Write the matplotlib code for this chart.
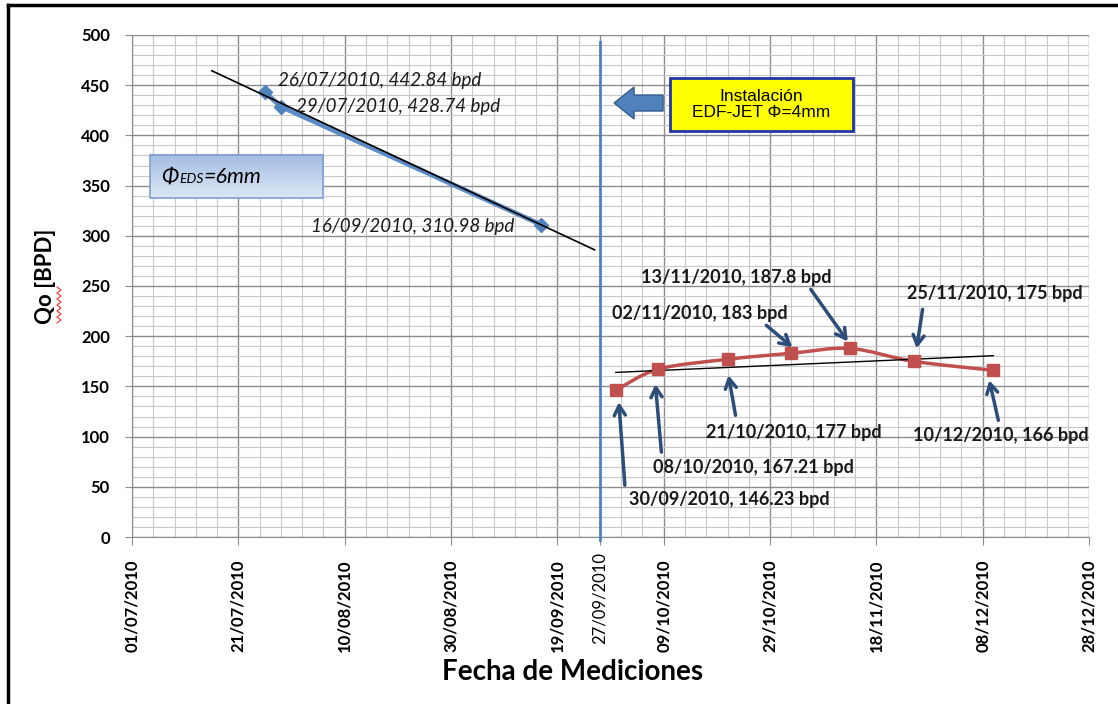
import datetime as dt

import numpy as np
import matplotlib
matplotlib.use("Agg")
import matplotlib.pyplot as plt
import matplotlib.dates as mdates
from matplotlib.colors import LinearSegmentedColormap
from matplotlib.lines import Line2D
from matplotlib.path import Path
from matplotlib.patches import PathPatch, Rectangle, FancyArrow
from matplotlib.ticker import FixedLocator

plt.rcParams["font.family"] = ["Lato", "DejaVu Sans"]

# Producción con EDS de 6 mm
eds_dates = ["26/07/2010", "29/07/2010", "16/09/2010"]
eds_qo = [442.84, 428.74, 310.98]

# Producción después de instalar el EDF-JET de 4 mm
jet_dates = ["30/09/2010", "08/10/2010", "21/10/2010", "02/11/2010",
             "13/11/2010", "25/11/2010", "10/12/2010"]
jet_qo = [146.23, 167.21, 177, 183, 187.8, 175, 166]

install_date = "27/09/2010"
x_start = "01/07/2010"
x_end = "28/12/2010"
y_max = 500
trend_extend_days = 10

# offsets de etiquetas (px respecto al punto)
eds_label_offsets = [(13, 12, "left"), (15, 0, "left"), (-27, -2, "right")]
# texto, cola de flecha, punta de flecha
jet_label_offsets = [
    ((13, -109), (9, -95), (3, -12)),
    ((-5, -98), (3, -83), (-3, -15)),
    ((-22, -73), (8, -56), (1, -16)),
    ((-179, 40), (-25, 28), (1, 6)),
    ((-209, 71), (-39, 59), (-2, 7)),
    ((-7, 68), (9, 52), (3, 13)),
    ((-80, -65), (5, -50), (-4, -10)),
]


def to_num(s):
    return mdates.date2num(dt.datetime.strptime(s, "%d/%m/%Y"))


def smooth_path(xs, ys):
    # curva suavizada tipo Excel (Bezier cúbica)
    pts = np.column_stack([xs, ys])
    p = np.vstack([pts[0], pts, pts[-1]])
    verts = [tuple(pts[0])]
    codes = [Path.MOVETO]
    for i in range(1, len(p) - 2):
        c1 = p[i] + (p[i + 1] - p[i - 1]) / 6.0
        c2 = p[i + 1] - (p[i + 2] - p[i]) / 6.0
        verts += [tuple(c1), tuple(c2), tuple(p[i + 1])]
        codes += [Path.CURVE4] * 3
    return Path(verts, codes)


eds_x = np.array([to_num(d) for d in eds_dates])
jet_x = np.array([to_num(d) for d in jet_dates])
x0, x1 = to_num(x_start), to_num(x_end)
x_inst = to_num(install_date)

fig = plt.figure(figsize=(11.18, 7.04), dpi=100)
ax = fig.add_axes([0.1181, 0.2372, 0.8560, 0.7131])
ax.set_xlim(x0, x1)
ax.set_ylim(0, y_max)

# rejilla
major_x = list(np.arange(x0, x1 + 1, 20))
ax.xaxis.set_minor_locator(FixedLocator(np.arange(x0, x1 + 1, 4)))
ax.yaxis.set_major_locator(FixedLocator(np.arange(0, y_max + 1, 50)))
ax.yaxis.set_minor_locator(FixedLocator(np.arange(0, y_max + 1, 10)))
ticks = sorted(major_x + [x_inst])
labels = [mdates.num2date(t).strftime("%d/%m/%Y") for t in ticks]
ax.set_xticks(ticks, labels=labels)
ax.grid(True, which="major", color="#8c8c8c", lw=1.0, zorder=0)
ax.grid(True, which="minor", color="#c8c8c8", lw=0.8, zorder=0)
ax.set_axisbelow(True)
for s in ["top", "right"]:
    ax.spines[s].set_visible(False)
for s in ["left", "bottom"]:
    ax.spines[s].set_color("#8c8c8c")

ax.tick_params(axis="y", which="major", length=5, color="#8c8c8c", pad=11,
               labelsize=12)
ax.tick_params(axis="x", which="major", length=6, color="#8c8c8c", pad=10,
               labelsize=12, labelrotation=90)
ax.tick_params(which="minor", length=0)
for t in ax.get_yticklabels():
    t.set_fontweight("bold")
for t in ax.get_xticklabels():
    t.set_fontweight("bold")
    t.set_va("top")
    if t.get_text() == install_date:
        t.set_fontweight("normal")
        t.set_y(0.014)

# línea de instalación
ax.plot([x_inst, x_inst], [-3, 493], color="#4f81bd", lw=2, clip_on=False,
        zorder=3)

# serie EDS y su tendencia
ax.plot(eds_x, eds_qo, color="#5b8cc8", lw=3.5, marker="D", ms=7,
        markerfacecolor="#4f81bd", markeredgecolor="#4f81bd", zorder=4)
k, b = np.polyfit(eds_x, eds_qo, 1)
tx = np.array([eds_x.min() - trend_extend_days, eds_x.max() + trend_extend_days])
ax.plot(tx, k * tx + b, color="black", lw=1.2, zorder=5)

# serie EDF-JET suavizada y su tendencia
ax.add_patch(PathPatch(smooth_path(jet_x, jet_qo), fill=False,
                       edgecolor="#c0504d", lw=2.5, zorder=4))
ax.plot(jet_x, jet_qo, ls="none", marker="s", ms=8, color="#c0504d",
        zorder=6)
k2, b2 = np.polyfit(jet_x, jet_qo, 1)
tx2 = np.array([jet_x.min(), jet_x.max()])
ax.plot(tx2, k2 * tx2 + b2, color="black", lw=1.0, zorder=5)

# etiquetas EDS
for xv, q, d, (dx, dy, ha) in zip(eds_x, eds_qo, eds_dates, eds_label_offsets):
    ax.annotate(f"{d}, {q:g} bpd", (xv, q), xytext=(dx, dy),
                textcoords="offset pixels", ha=ha, va="center",
                fontsize=13.5, style="italic", color="#1a1a1a", zorder=7)

# etiquetas EDF-JET con flechas
trans = ax.transData
inv = trans.inverted()
for xv, q, d, (txt, tail, head) in zip(jet_x, jet_qo, jet_dates,
                                       jet_label_offsets):
    ax.annotate(f"{d}, {q:g} bpd", (xv, q), xytext=txt,
                textcoords="offset pixels", ha="left", va="center",
                fontsize=13, fontweight="bold", color="#1a1a1a", zorder=7)
    px, py = trans.transform((xv, q))
    hx, hy = inv.transform((px + head[0], py + head[1]))
    sx, sy = inv.transform((px + tail[0], py + tail[1]))
    ax.annotate("", xy=(hx, hy), xytext=(sx, sy),
                arrowprops=dict(arrowstyle="->,head_length=0.7,head_width=0.4",
                                color="#2c4d7a", lw=2.5, shrinkA=0, shrinkB=0),
                zorder=7)

# recuadro ΦEDS
grad = np.linspace(0, 1, 100).reshape(-1, 1)
ax.imshow(grad, extent=(0.0188, 0.1996, 0.675, 0.761), transform=ax.transAxes,
          cmap=LinearSegmentedColormap.from_list("g", ["#dce6f4", "#a3bde3"]),
          aspect="auto", origin="lower", zorder=6)
ax.add_patch(Rectangle((0.0188, 0.675), 0.1808, 0.086, transform=ax.transAxes,
                       fill=False, edgecolor="#7f9fd0", lw=1.2, zorder=7))
ax.set_xlim(x0, x1)
ax.set_ylim(0, y_max)
ax.text(0.030, 0.718, "Φ", transform=ax.transAxes, fontsize=16,
        style="italic", va="center", zorder=8)
ax.text(0.049, 0.713, "EDS", transform=ax.transAxes, fontsize=10,
        style="italic", va="center", zorder=8)
ax.text(0.075, 0.718, "=6mm", transform=ax.transAxes, fontsize=15.5,
        style="italic", va="center", zorder=8)

# recuadro de instalación y flecha
ax.add_patch(Rectangle((0.5622, 0.8088), 0.1912, 0.1055, transform=ax.transAxes,
                       facecolor="#ffff00", edgecolor="#2233aa", lw=2,
                       zorder=7))
ax.text(0.6578, 0.8615, "Instalación\nEDF-JET Φ=4mm", transform=ax.transAxes,
        ha="center", va="center", fontsize=12.5, family="Liberation Sans",
        linespacing=1.1, zorder=8)
ax.add_patch(FancyArrow(0.5549, 0.8645, -0.0512, 0, width=0.0319,
                        head_width=0.0637, head_length=0.0209,
                        length_includes_head=True, transform=ax.transAxes,
                        facecolor="#4f81bd", edgecolor="#385d8a", lw=1,
                        zorder=7))

# títulos de ejes
fig.text(0.041, 0.607, "Qo [BPD]", rotation=90, ha="center", va="center",
         fontsize=16, fontweight="bold")
fig.text(0.5125, 0.0455, "Fecha de Mediciones", ha="center", va="center",
         fontsize=20, fontweight="bold")

# subrayado ondulado bajo "Qo"
wy = np.arange(287, 326, 3)
wx = np.where(np.arange(len(wy)) % 2 == 0, 57, 61)
fig.add_artist(Line2D(wx / 1118, 1 - wy / 704, color="#ff3030", lw=0.8))

# marco del gráfico
fig.add_artist(Line2D([0.0072, 0.0072], [0, 0.9929], color="black", lw=2.5))
fig.add_artist(Line2D([0.0072, 1], [0.9929, 0.9929], color="black", lw=2.5))

fig.savefig("out.png", dpi=100)
